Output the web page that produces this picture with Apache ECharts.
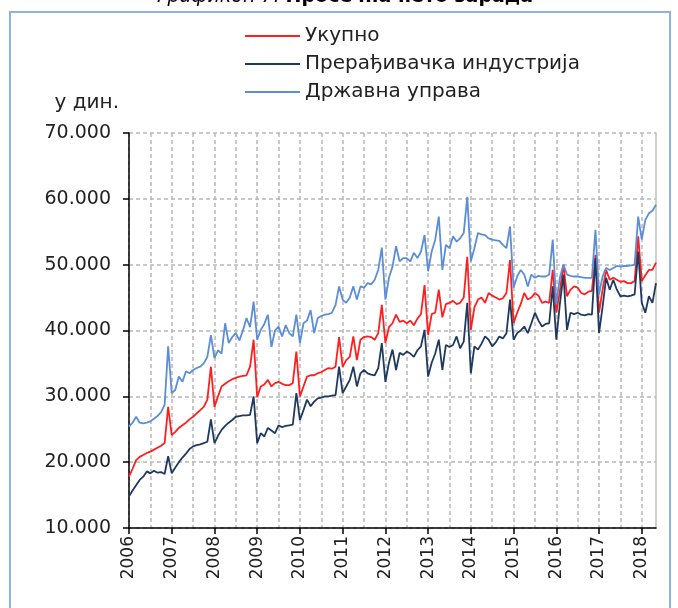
<!DOCTYPE html>
<html>
<head>
<meta charset="utf-8">
<script src="https://cdn.jsdelivr.net/npm/echarts@6/dist/echarts.min.js"></script>
<style>
html,body{margin:0;padding:0;background:#fff;}
#chart{width:678px;height:608px;}
</style>
</head>
<body>
<div id="chart"></div>
<script>
// Year tick labels (each year has 12 monthly points; last year Jan–May)
var years = ['2006','2007','2008','2009','2010','2011','2012','2013','2014','2015','2016','2017','2018'];
var monthsInLastYear = 5;

var seriesNames = ['Укупно', 'Прерађивачка индустрија', 'Државна управа'];

// Укупно (monthly, RSD)
var total = [
  17800, 19000, 20300, 20800, 21100, 21400, 21600, 21900, 22200, 22500, 22900, 28400,
  24100, 24600, 25200, 25600, 26000, 26500, 26900, 27400, 27900, 28400, 29500, 34500,
  28400, 30000, 31500, 31900, 32300, 32600, 32800, 33000, 33100, 33200, 34500, 38600,
  29900, 31500, 31800, 32500, 31500, 32000, 32200, 31900, 31700, 31700, 32000, 36800,
  30000, 31500, 33000, 33200, 33200, 33500, 33700, 34000, 34300, 34200, 34500, 39000,
  34500, 35500, 36000, 39100, 35500, 38600, 39000, 39100, 39000, 38600, 39600, 43900,
  38100, 40500, 41100, 42400, 41300, 41500, 41100, 41500, 40800, 41800, 42500, 46900,
  39300, 42500, 42700, 46200, 42000, 44000, 44200, 44500, 44000, 44200, 45000, 51200,
  40100, 43500, 44700, 45000, 44200, 45700, 45300, 45000, 44700, 44900, 45700, 50700,
  41100, 42700, 44000, 45700, 44700, 45000, 45700, 45300, 44200, 44400, 44200, 49200,
  42700, 46000, 50000, 45200, 46200, 46700, 46500, 45700, 45500, 45900, 46000, 51500,
  42700, 46200, 49200, 47700, 48000, 47700, 47400, 47500, 47200, 47200, 47500, 54300,
  47500, 48400, 49200, 49200, 50300
];

// Прерађивачка индустрија
var manufacturing = [
  14800, 15700, 16500, 17300, 17800, 18600, 18300, 18700, 18400, 18500, 18200, 20900,
  18300, 19200, 20000, 20700, 21300, 22000, 22400, 22600, 22700, 22900, 23100, 26500,
  22900, 24000, 24900, 25500, 26000, 26400, 26900, 27000, 27100, 27100, 27200, 30000,
  22900, 24400, 23900, 25200, 24800, 24400, 25600, 25300, 25500, 25600, 25700, 30500,
  26400, 27900, 29500, 28500, 29200, 29700, 29800, 30000, 30000, 30100, 30200, 34500,
  30500, 31500, 32500, 34500, 31500, 33500, 34000, 33500, 33300, 33200, 34300, 38100,
  32200, 35100, 37100, 34000, 36600, 36300, 36800, 36500, 36000, 37000, 37600, 40100,
  33000, 35100, 36500, 38600, 34000, 37800, 37500, 37800, 39100, 37300, 38300, 44200,
  33500, 37600, 37100, 38000, 39100, 38600, 37600, 38200, 39100, 38800, 39600, 44700,
  38600, 39600, 40000, 40600, 39600, 41100, 42700, 41500, 40600, 41000, 41100, 46700,
  38600, 44000, 48500, 40100, 42700, 42500, 42700, 42400, 42300, 42500, 42400, 51000,
  39600, 43600, 48000, 46200, 47700, 46200, 45200, 45300, 45200, 45300, 45500, 52000,
  44200, 42700, 45200, 44200, 47200
];

// Државна управа
var government = [
  25400, 26000, 26900, 26000, 25900, 26000, 26200, 26600, 27000, 27600, 28700, 37600,
  30500, 31000, 33000, 32200, 33800, 33500, 34000, 34300, 34500, 35000, 36000, 39300,
  35800, 37000, 36500, 41100, 38100, 39000, 39600, 38500, 40000, 41900, 40500, 44400,
  38600, 40100, 41000, 42400, 37500, 40000, 40600, 39100, 40800, 39600, 39100, 42400,
  38100, 41100, 41500, 43100, 39600, 41900, 42200, 42400, 42500, 42700, 43900, 46700,
  44700, 44200, 45000, 46700, 44700, 46700, 46500, 47200, 47000, 47700, 49200, 52600,
  44700, 48000, 49700, 52800, 50500, 51000, 51000, 50500, 51800, 51000, 52000, 54500,
  49000, 52000, 53800, 57300, 49200, 53000, 52500, 54300, 53500, 54000, 54800, 60300,
  50500, 52500, 54800, 54600, 54500, 54000, 53800, 53700, 53600, 53000, 52500, 55800,
  46500, 48200, 49200, 48500, 46700, 48500, 48000, 48300, 48200, 48200, 48500, 53800,
  44000, 48000, 50000, 48500, 48300, 48200, 48200, 48100, 48000, 48000, 48000, 55300,
  45500, 48200, 49500, 49200, 49500, 49800, 49700, 49800, 49800, 49900, 50000, 57300,
  53800, 56800, 57800, 58200, 59100
];

// monthly categories built from the year list
var categories = [];
years.forEach(function (y, yi) {
  var n = (yi === years.length - 1) ? monthsInLastYear : 12;
  for (var m = 1; m <= n; m++) categories.push(y + '-' + (m < 10 ? '0' + m : m));
});

function fmt(v) { return String(v).replace(/\B(?=(\d{3})+(?!\d))/g, '.'); }

var FONT = 'DejaVu Sans';
var chart = echarts.init(document.getElementById('chart'), null, { renderer: 'canvas' });
chart.setOption({
  animation: false,
  backgroundColor: '#fff',
  textStyle: { fontFamily: FONT },
  graphic: [
    { type: 'rect', silent: true, shape: { x: 10, y: 12, width: 660, height: 640 },
      style: { fill: 'none', stroke: '#8db3e2', lineWidth: 2 } },
    { type: 'text', silent: true, x: 345, y: 7,
      style: { text: '{i|Графикон 7. }{b|Просечна нето зарада}', align: 'center', verticalAlign: 'bottom',
        rich: { i: { fontFamily: FONT, fontSize: 19, fontStyle: 'italic', fill: '#000' },
                b: { fontFamily: FONT, fontSize: 19, fontWeight: 'bold', fill: '#000' } } } }
  ],
  legend: {
    orient: 'vertical', left: 240, top: 20,
    itemWidth: 55, itemHeight: 2, itemGap: 6, icon: 'rect',
    textStyle: { fontFamily: FONT, fontSize: 20, color: '#222', lineHeight: 22 },
    data: seriesNames
  },
  grid: { left: 129, right: 22, top: 133, bottom: 80, containLabel: false },
  xAxis: {
    type: 'category', data: categories, boundaryGap: false,
    axisLine: { lineStyle: { color: '#000', width: 1.5 } },
    axisTick: { show: true, length: 6, interval: function (i) { return i % 12 === 0; }, lineStyle: { color: '#000', width: 1.5 } },
    axisLabel: { interval: function (i) { return i % 12 === 0; }, rotate: 90, margin: 8,
      fontFamily: FONT, fontSize: 17, color: '#222', formatter: function (v) { return v.slice(0, 4); } },
    splitLine: { show: true, interval: function (i) { return i % 6 === 0; },
      lineStyle: { color: '#b8b8b8', type: [4, 3], width: 1.5 } }
  },
  yAxis: [{
    type: 'value', min: 10000, max: 70000, interval: 10000,
    name: 'у дин.', nameLocation: 'end', nameGap: 30,
    nameTextStyle: { fontFamily: FONT, fontSize: 20, color: '#222', align: 'right', verticalAlign: 'middle', padding: [0, 10, 0, 0] },
    axisLine: { show: true, lineStyle: { color: '#000', width: 1.5 } },
    axisTick: { show: true, length: 6, lineStyle: { color: '#000', width: 1.5 } },
    axisLabel: { fontFamily: FONT, fontSize: 19, color: '#222', margin: 18, formatter: fmt },
    splitLine: { lineStyle: { color: '#b8b8b8', type: [4, 3], width: 1.5 } }
  }, {
    type: 'value', min: 10000, max: 70000, interval: 10000, position: 'right',
    axisLine: { show: true, lineStyle: { color: '#c0c0c0', width: 1.5 } },
    axisTick: { show: false }, axisLabel: { show: false }, splitLine: { show: false }
  }],
  series: [
    { name: seriesNames[0], type: 'line', data: total, symbol: 'none', yAxisIndex: 0,
      lineStyle: { color: '#ff1f1f', width: 1.8 }, itemStyle: { color: '#ff1f1f' } },
    { name: seriesNames[1], type: 'line', data: manufacturing, symbol: 'none', yAxisIndex: 0,
      lineStyle: { color: '#1f3a60', width: 1.8 }, itemStyle: { color: '#1f3a60' } },
    { name: seriesNames[2], type: 'line', data: government, symbol: 'none', yAxisIndex: 0,
      lineStyle: { color: '#5b8ed6', width: 1.8 }, itemStyle: { color: '#5b8ed6' } }
  ]
});
</script>
</body>
</html>
